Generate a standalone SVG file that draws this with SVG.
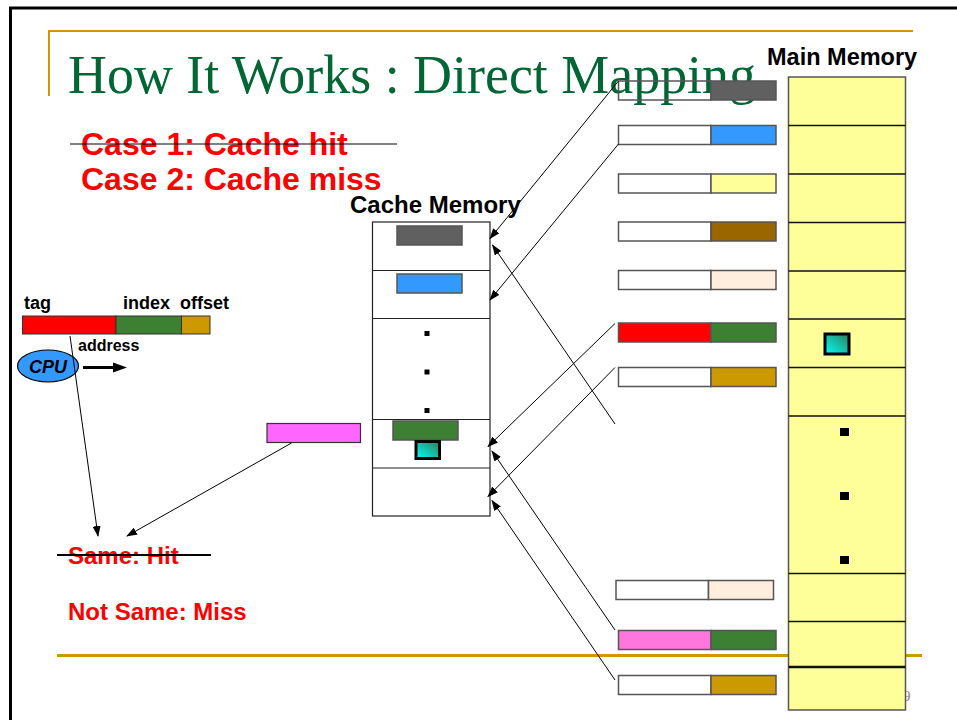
<svg xmlns="http://www.w3.org/2000/svg" width="957" height="720" viewBox="0 0 957 720">
<style>
.bold{font-family:"Liberation Sans",Arial,sans-serif;font-weight:bold}
.red{fill:#FF0000}
.blk{stroke:#555;stroke-width:1.5}
.conn{stroke:#000;stroke-width:1;fill:none;marker-end:url(#ah)}
</style>
<defs>
<marker id="ah" markerWidth="11" markerHeight="8" refX="10" refY="4" orient="auto" markerUnits="userSpaceOnUse">
<path d="M0,0 L11,4 L0,8 Z" fill="#000"/>
</marker>
<linearGradient id="tg" x1="0" y1="1" x2="1" y2="0">
<stop offset="0" stop-color="#00FFFF"/>
<stop offset="1" stop-color="#2F7F55"/>
</linearGradient>
</defs>
<rect width="957" height="720" fill="#fff"/>
<!-- frame -->
<path d="M957,8 H10.5 V720" fill="none" stroke="#000" stroke-width="3"/>
<path d="M49,96 V31 H913" fill="none" stroke="#CC9900" stroke-width="2"/>
<line x1="57" y1="655.5" x2="922" y2="655.5" stroke="#CC9900" stroke-width="3"/>
<text x="903" y="701" font-family="'Liberation Serif',serif" font-size="15" fill="#888">9</text>
<!-- title -->
<text x="68" y="93" font-family="'Liberation Serif',serif" font-size="54" fill="#006633" textLength="688" lengthAdjust="spacingAndGlyphs">How It Works : Direct Mapping</text>
<g id="cases">
<text x="81" y="155" class="bold red" font-size="32">Case 1: Cache hit</text>
<line x1="70" y1="144" x2="397" y2="144" stroke="#000" stroke-width="1.2"/>
<text x="81" y="190" class="bold red" font-size="32">Case 2: Cache miss</text>
</g>
<!-- address -->
<g id="address">
<text x="24" y="309" class="bold" font-size="18">tag</text>
<text x="123" y="309" class="bold" font-size="18">index</text>
<text x="180" y="309" class="bold" font-size="18">offset</text>
<rect x="22.5" y="316" width="93.5" height="18" fill="#FF0000" stroke="#333"/>
<rect x="116" y="316" width="65.5" height="18" fill="#3D7F33" stroke="#333"/>
<rect x="181.5" y="316" width="28.5" height="18" fill="#CC9900" stroke="#333"/>
<text x="78" y="351" class="bold" font-size="16">address</text>
</g>
<g id="cpu">
<ellipse cx="48" cy="366" rx="30.5" ry="16" fill="#3399FF" stroke="#000" stroke-width="1.2"/>
<text x="48" y="373" class="bold" font-style="italic" font-size="18" text-anchor="middle">CPU</text>
<line x1="83" y1="367.5" x2="114" y2="367.5" stroke="#000" stroke-width="3"/>
<path d="M113,362.5 L127,367.5 L113,372.5 Z" fill="#000"/>
</g>
<!-- cache memory -->
<g id="cache">
<text x="350" y="213" class="bold" font-size="24">Cache Memory</text>
<rect x="372.5" y="222" width="117.5" height="294" fill="#fff" stroke="#222" stroke-width="1.2"/>
<line x1="372.5" y1="270.5" x2="490" y2="270.5" stroke="#222" stroke-width="1.2"/>
<line x1="372.5" y1="318.5" x2="490" y2="318.5" stroke="#222" stroke-width="1.2"/>
<line x1="372.5" y1="419.5" x2="490" y2="419.5" stroke="#222" stroke-width="1.2"/>
<line x1="372.5" y1="468" x2="490" y2="468" stroke="#222" stroke-width="1.2"/>
<rect x="397" y="226" width="65" height="19" fill="#606060" class="blk"/>
<rect x="397" y="274" width="65" height="19" fill="#3399FF" class="blk"/>
<rect x="424.5" y="331" width="5" height="5" fill="#000"/>
<rect x="424.5" y="369.5" width="5" height="5" fill="#000"/>
<rect x="424.5" y="408" width="5" height="5" fill="#000"/>
<rect x="393" y="421" width="65" height="19" fill="#3D8033" class="blk"/>
<rect x="416" y="441.5" width="23.5" height="17" fill="url(#tg)" stroke="#000" stroke-width="3"/>
</g>
<g id="pink-tag">
<rect x="267" y="423.5" width="93.5" height="19" fill="#FF66FF" stroke="#333" stroke-width="1.2"/>
</g>
<g id="results">
<text x="68" y="564" class="bold red" font-size="24">Same: Hit</text>
<line x1="57" y1="555" x2="211" y2="555" stroke="#000" stroke-width="1.8"/>
<text x="68" y="620" class="bold red" font-size="24">Not Same: Miss</text>
</g>
<!-- memory blocks -->
<g id="mem-blocks">
<g id="b1"><rect x="618.5" y="81" width="92.5" height="19" fill="none" class="blk"/><rect x="711" y="81" width="65" height="19" fill="#606060" class="blk"/></g>
<g id="b2"><rect x="618.5" y="125.5" width="92.5" height="19" fill="#fff" class="blk"/><rect x="711" y="125.5" width="65" height="19" fill="#3399FF" class="blk"/></g>
<g id="b3"><rect x="618.5" y="174" width="92.5" height="19" fill="#fff" class="blk"/><rect x="711" y="174" width="65" height="19" fill="#FFFF99" class="blk"/></g>
<g id="b4"><rect x="618.5" y="222" width="92.5" height="19" fill="#fff" class="blk"/><rect x="711" y="222" width="65" height="19" fill="#996600" class="blk"/></g>
<g id="b5"><rect x="618.5" y="270.5" width="92.5" height="19" fill="#fff" class="blk"/><rect x="711" y="270.5" width="65" height="19" fill="#FFEEDD" class="blk"/></g>
<g id="b6"><rect x="618.5" y="323" width="92.5" height="19" fill="#FF0000" class="blk"/><rect x="711" y="323" width="65" height="19" fill="#3D8033" class="blk"/></g>
<g id="b7"><rect x="618.5" y="367.5" width="92.5" height="19" fill="#fff" class="blk"/><rect x="711" y="367.5" width="65" height="19" fill="#CC9900" class="blk"/></g>
<g id="b8"><rect x="616" y="580.5" width="92.5" height="19" fill="#fff" class="blk"/><rect x="708.5" y="580.5" width="65" height="19" fill="#FFEEDD" class="blk"/></g>
<g id="b9"><rect x="618.5" y="630.5" width="92.5" height="19" fill="#FF77DD" class="blk"/><rect x="711" y="630.5" width="65" height="19" fill="#3D8033" class="blk"/></g>
<g id="b10"><rect x="618.5" y="675.5" width="92.5" height="19" fill="#fff" class="blk"/><rect x="711" y="675.5" width="65" height="19" fill="#CC9900" class="blk"/></g>
</g>
<!-- main memory -->
<g id="main-memory">
<text x="767" y="65" class="bold" font-size="23.5">Main Memory</text>
<rect x="788.5" y="77" width="117" height="633" fill="#FFFF99" stroke="#555" stroke-width="1.5"/>
<g stroke="#111" stroke-width="1.5">
<line x1="788.5" y1="125.5" x2="905.5" y2="125.5"/>
<line x1="788.5" y1="174" x2="905.5" y2="174"/>
<line x1="788.5" y1="222.5" x2="905.5" y2="222.5"/>
<line x1="788.5" y1="271" x2="905.5" y2="271"/>
<line x1="788.5" y1="319" x2="905.5" y2="319"/>
<line x1="788.5" y1="367.5" x2="905.5" y2="367.5"/>
<line x1="788.5" y1="416" x2="905.5" y2="416"/>
<line x1="788.5" y1="573.5" x2="905.5" y2="573.5"/>
<line x1="788.5" y1="621.5" x2="905.5" y2="621.5"/>
<line x1="788.5" y1="667" x2="905.5" y2="667" stroke-width="2.5"/>
</g>
<rect x="840" y="428" width="9" height="8" fill="#000"/>
<rect x="840" y="492" width="9" height="8" fill="#000"/>
<rect x="840" y="556" width="9" height="8" fill="#000"/>
<rect x="825" y="334" width="24" height="20" fill="url(#tg)" stroke="#000" stroke-width="3"/>
</g>
<!-- connectors -->
<g id="connectors">
<line x1="618.5" y1="81" x2="490" y2="238.5" class="conn"/>
<line x1="618.5" y1="144" x2="490" y2="300" class="conn"/>
<line x1="615" y1="424" x2="492.5" y2="245" class="conn"/>
<line x1="615" y1="323.5" x2="488" y2="446.5" class="conn"/>
<line x1="615" y1="367.5" x2="488" y2="496.5" class="conn"/>
<line x1="615" y1="630" x2="492" y2="451" class="conn"/>
<line x1="615" y1="680" x2="492" y2="500.5" class="conn"/>
<line x1="70" y1="336" x2="98" y2="536" class="conn"/>
<line x1="291.5" y1="443" x2="127" y2="536" class="conn"/>
</g>
</svg>
